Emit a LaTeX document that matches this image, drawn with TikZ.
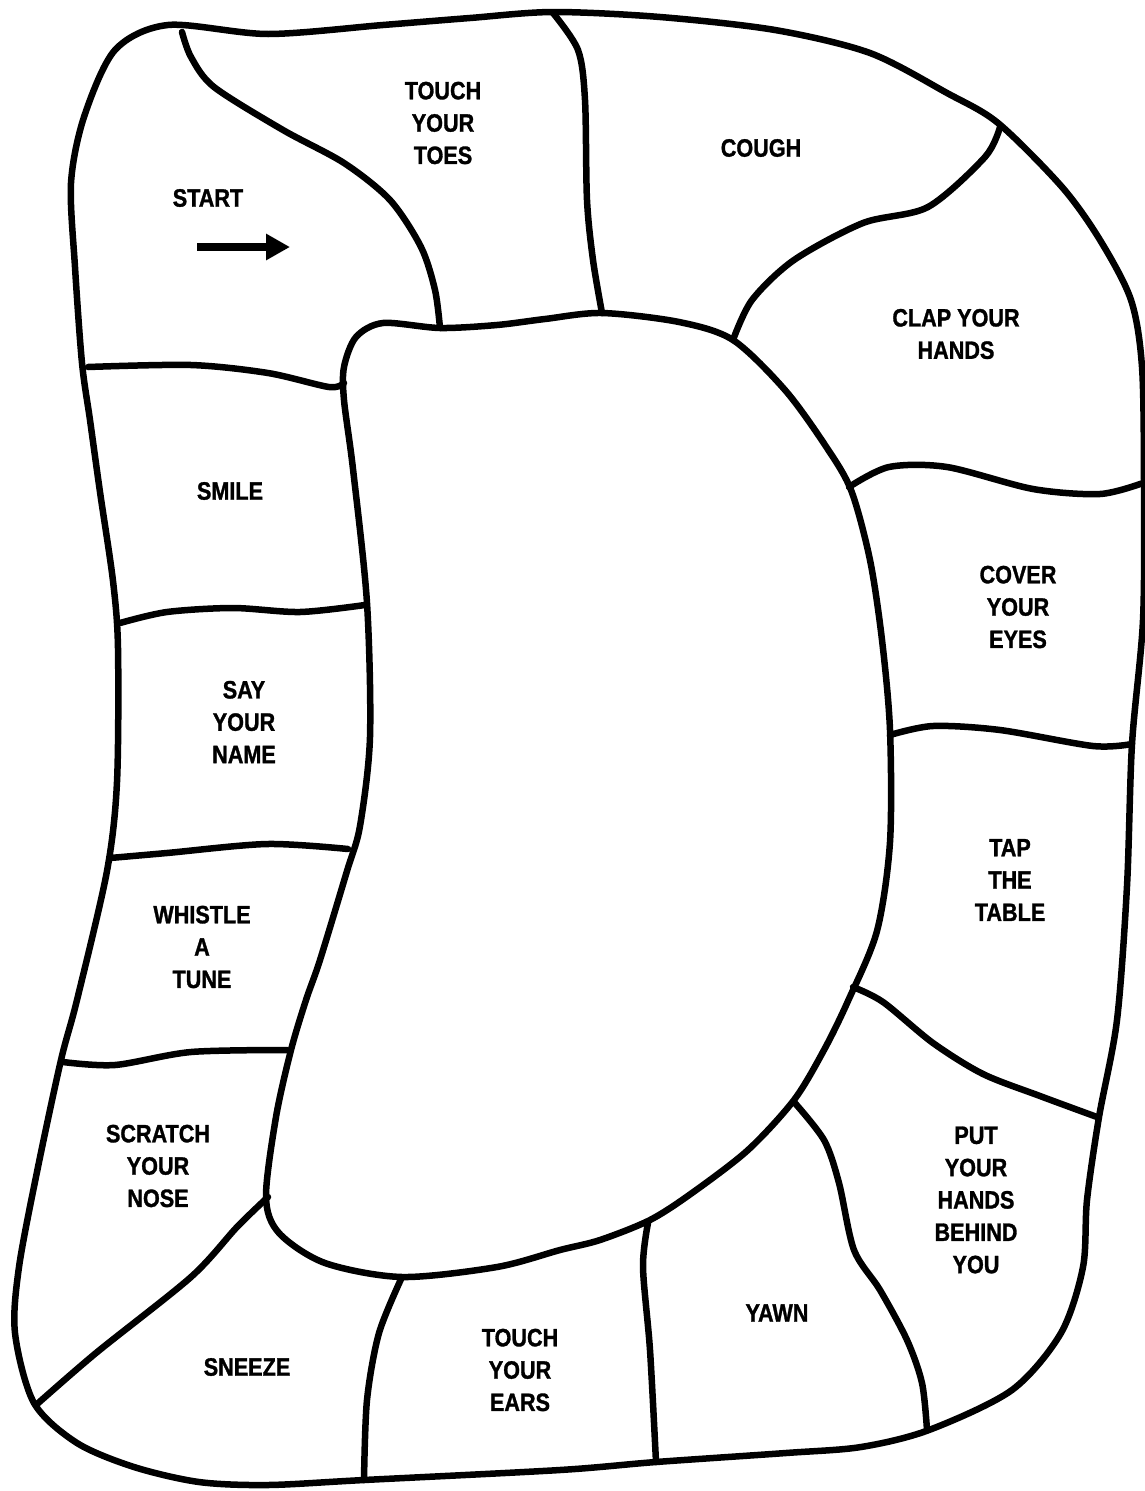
\documentclass[tikz,border=0pt]{standalone}
\usepackage{fontspec}
\newfontfamily\boardfont[FakeStretch=0.86, BoldFeatures={FakeStretch=0.86, FakeBold=1.2}]{Liberation Sans}
\usetikzlibrary{arrows.meta}
\tikzset{
  boardline/.style={line width=3.7pt, line join=round, line cap=round},
  tile/.style={align=center, font=\boardfont\bfseries\fontsize{14.3}{18.4}\selectfont, inner sep=0pt}
}
\begin{document}
\begin{tikzpicture}[x=0.02cm, y=-0.02cm]
    \useasboundingbox (0,0) rectangle (1145,1491);
    % outer edge of the board
    \draw[boardline] plot[smooth cycle, tension=0.5] coordinates {
      (168,25) (268,34) (383,25) (470,18) (553,12) (660,17) (775,30) (870,53)
      (947,93) (998,123) (1062,187) (1100,240) (1131,300) (1142,367) (1144,483)
      (1143,620) (1132,744) (1127,886) (1117,1020) (1099,1117) (1087,1200)
      (1083,1267) (1061,1333) (1012,1390) (929,1430) (861,1447) (786,1453)
      (656,1462) (560,1470) (364,1480) (268,1485) (199,1482) (134,1467) (77,1443)
      (34,1403) (15,1333) (19,1267) (38,1167) (61,1060) (77,1000) (107,871)
      (117,782) (118,648) (113,581) (100,492) (90,420) (82,363) (75,267) (71,183)
      (84,117) (115,50)};
    % middle blob
    \draw[boardline] plot[smooth cycle, tension=0.5] coordinates {
      (383,323) (440,328) (497,325) (545,319) (602,313) (679,322) (733,340)
      (785,390) (825,445) (851,490) (870,560) (882,640) (890,730) (890,842) (877,931)
      (848,1001) (824,1050) (794,1100) (748,1150) (692,1193) (650,1220) (600,1240)
      (560,1250) (497,1267) (402,1277) (325,1263) (279,1233) (266,1197) (276,1117)
      (291,1050) (306,1000) (320,960) (347,871) (360,826) (370,737) (367,603)
      (353,469) (344,400) (344,367) (356,337)};
    % squares
    \draw[boardline] plot[smooth] coordinates {(182,32) (191,57) (214,87) (283,130) (344,163) (390,200) (421,247) (435,290) (440,328)};
    \draw[boardline] plot[smooth] coordinates {(553,13) (578,50) (585,100) (587,200) (593,260) (602,313)};
    \draw[boardline] plot[smooth] coordinates {(1000,127) (985,157) (928,207) (863,223) (794,260) (752,300) (733,340)};
    \draw[boardline] plot[smooth] coordinates {(849,487) (889,467) (947,467) (1033,489) (1100,494) (1143,483)};
    \draw[boardline] plot[smooth] coordinates {(890,735) (933,726) (1000,730) (1093,746) (1132,744)};
    \draw[boardline] plot[smooth] coordinates {(853,987) (883,1002) (933,1043) (983,1074) (1040,1096) (1097,1117)};
    \draw[boardline] plot[smooth] coordinates {(794,1102) (824,1140) (839,1183) (854,1250) (880,1290) (907,1340) (922,1383) (927,1430)};
    \draw[boardline] plot[smooth] coordinates {(648,1223) (643,1267) (650,1350) (656,1462)};
    \draw[boardline] plot[smooth] coordinates {(402,1277) (379,1333) (367,1400) (364,1480)};
    \draw[boardline] plot[smooth] coordinates {(268,1197) (237,1227) (191,1277) (96,1353) (36,1405)};
    \draw[boardline] plot[smooth] coordinates {(63,1062) (115,1065) (191,1052) (287,1050)};
    \draw[boardline] plot[smooth] coordinates {(110,858) (167,853) (267,844) (348,849)};
    \draw[boardline] plot[smooth] coordinates {(120,623) (167,612) (233,608) (300,612) (365,605)};
    \draw[boardline] plot[smooth] coordinates {(88,367) (191,365) (268,373) (329,387) (344,383)};
    % texts
    \node (start) [tile] at (208,198) {START};
    \node (toes) [tile] at (443,123) {TOUCH\\YOUR\\TOES};
    \node (cough) [tile] at (761,148) {COUGH};
    \node (clap) [tile] at (956,334) {CLAP YOUR\\HANDS};
    \node (cover) [tile] at (1018,607) {COVER\\YOUR\\EYES};
    \node (tap) [tile] at (1010,880) {TAP\\THE\\TABLE};
    \node (put) [tile] at (976,1200) {PUT\\YOUR\\HANDS\\BEHIND\\YOU};
    \node (yawn) [tile] at (777,1313) {YAWN};
    \node (ears) [tile] at (520,1370) {TOUCH\\YOUR\\EARS};
    \node (sneeze) [tile] at (247,1367) {SNEEZE};
    \node (scratch) [tile] at (158,1166) {SCRATCH\\YOUR\\NOSE};
    \node (whistle) [tile] at (202,947) {WHISTLE\\A\\TUNE};
    \node (sayname) [tile] at (244,722) {SAY\\YOUR\\NAME};
    \node (smile) [tile] at (230,491) {SMILE};
    % start arrow
    \coordinate (arrowtail) at (197,247);
    \coordinate (arrowtip) at (290,247);
    \draw[line width=4.6pt, -{Triangle[length=0.48cm, width=0.5cm]}] (arrowtail) -- (arrowtip);
\end{tikzpicture}
\end{document}
